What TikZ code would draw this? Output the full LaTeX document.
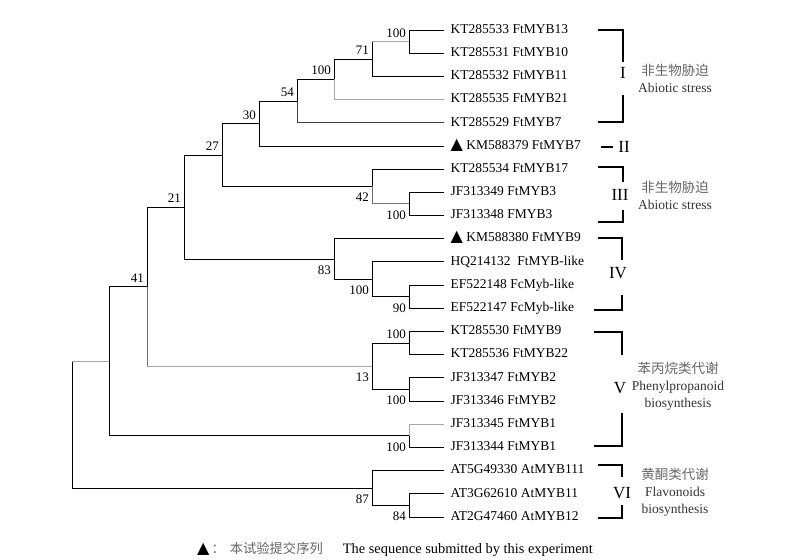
\documentclass[tikz,border=0pt]{standalone}
\usepackage{fontspec}
\setmainfont{Liberation Serif}
\newfontfamily\cjk{Noto Sans CJK SC}
\newfontfamily\sym{DejaVu Sans}
\newcommand{\tri}{{\sym\fontsize{16bp}{16bp}\selectfont ▲}}
\begin{document}
\begin{tikzpicture}[x=1bp,y=-1bp,
    br/.style={line width=0.9bp},
    lbr/.style={line width=0.9bp,black!35},
    leaf/.style={anchor=west,inner xsep=6.5bp,inner ysep=0pt,text height=0.66em,text depth=0pt,font=\fontsize{13.5bp}{16bp}\selectfont},
    bsu/.style={anchor=south east,inner xsep=3bp,inner ysep=1.5bp,yshift=2.5bp,font=\fontsize{13bp}{15bp}\selectfont},
    bsl/.style={anchor=north east,inner xsep=3bp,inner ysep=1.5bp,yshift=-5bp,font=\fontsize{13bp}{15bp}\selectfont},
    brk/.style={line width=1.6bp},
    clade/.style={inner sep=0pt,font=\fontsize{17bp}{20bp}\selectfont},
    func/.style={align=center,inner sep=0pt,font=\fontsize{13.5bp}{17bp}\selectfont}]
  \useasboundingbox (0,0) rectangle (795,560);

  % leaves
  \node[leaf] (l0) at (444,30.0) {KT285533 FtMYB13};
  \node[leaf] (l1) at (444,53.2) {KT285531 FtMYB10};
  \node[leaf] (l2) at (444,76.4) {KT285532 FtMYB11};
  \node[leaf] (l3) at (444,99.6) {KT285535 FtMYB21};
  \node[leaf] (l4) at (444,122.8) {KT285529 FtMYB7};
  \node[leaf] (l5) at (444,146.0) {\tri\ KM588379 FtMYB7};
  \node[leaf] (l6) at (444,169.1) {KT285534 FtMYB17};
  \node[leaf] (l7) at (444,192.3) {JF313349 FtMYB3};
  \node[leaf] (l8) at (444,215.5) {JF313348 FMYB3};
  \node[leaf] (l9) at (444,238.7) {\tri\ KM588380 FtMYB9};
  \node[leaf] (l10) at (444,261.9) {HQ214132\ \ FtMYB-like};
  \node[leaf] (l11) at (444,285.1) {EF522148 FcMyb-like};
  \node[leaf] (l12) at (444,308.3) {EF522147 FcMyb-like};
  \node[leaf] (l13) at (444,331.5) {KT285530 FtMYB9};
  \node[leaf] (l14) at (444,354.7) {KT285536 FtMYB22};
  \node[leaf] (l15) at (444,377.9) {JF313347 FtMYB2};
  \node[leaf] (l16) at (444,401.1) {JF313346 FtMYB2};
  \node[leaf] (l17) at (444,424.2) {JF313345 FtMYB1};
  \node[leaf] (l18) at (444,447.4) {JF313344 FtMYB1};
  \node[leaf] (l19) at (444,470.6) {AT5G49330 AtMYB111};
  \node[leaf] (l20) at (444,493.8) {AT3G62610 AtMYB11};
  \node[leaf] (l21) at (444,517.0) {AT2G47460 AtMYB12};

  % inner nodes
  \coordinate (n100a) at (409,41.6);
  \coordinate (n71) at (372,59.0);
  \coordinate (n100b) at (334,79.3);
  \coordinate (n54) at (297,101.1);
  \coordinate (n30) at (259,123.5);
  \coordinate (n100c) at (409,203.9);
  \coordinate (n42) at (372,186.5);
  \coordinate (n27) at (222,155.0);
  \coordinate (n90) at (409,296.7);
  \coordinate (n100d) at (372,279.3);
  \coordinate (n83) at (334,259.0);
  \coordinate (n21) at (184,207.0);
  \coordinate (n100e) at (409,343.1);
  \coordinate (n100f) at (409,389.5);
  \coordinate (n13) at (372,366.3);
  \coordinate (n41) at (147,286.7);
  \coordinate (n100g) at (409,435.8);
  \coordinate (nA) at (109,361.3);
  \coordinate (n84) at (409,505.4);
  \coordinate (n87) at (372,488.0);
  \coordinate (root) at (72,424.7);

  % branches
  \draw[br] (n100a) |- (l0.west) (n100a) |- (l1.west);
  \draw[br] (n71) -- (n71 |- n100a);
  \draw[lbr] (n71 |- n100a) -- (n100a);
  \draw[br] (n71) |- (l2.west);
  \draw[br] (n100b) |- (n71);
  \draw[lbr] (n100b) |- (l3.west);
  \draw[br] (n54) |- (n100b);
  \draw[br,black!75] (n54) |- (l4.west);
  \draw[br] (n30) |- (n54) (n30) |- (l5.west);
  \draw[br] (n100c) |- (l7.west) (n100c) |- (l8.west);
  \draw[br] (n42) |- (l6.west);
  \draw[lbr,black!55] (n42) |- (n100c);
  \draw[br] (n27) |- (n30) (n27) |- (n42);
  \draw[br] (n90) |- (l11.west) (n90) |- (l12.west);
  \draw[br] (n100d) |- (l10.west) (n100d) |- (n90);
  \draw[br] (n83) |- (l9.west) (n83) |- (n100d);
  \draw[br] (n21) |- (n27) (n21) |- (n83);
  \draw[br] (n100e) |- (l13.west) (n100e) |- (l14.west);
  \draw[br] (n100f) |- (l15.west) (n100f) |- (l16.west);
  \draw[br] (n13) |- (n100e) (n13) |- (n100f);
  \draw[br] (n41) |- (n21);
  \draw[lbr,black!55] (n41) -- (n41 |- n13);
  \draw[lbr] (n41 |- n13) -- (n13);
  \draw[lbr] (n100g) |- (l17.west);
  \draw[br] (n100g) |- (l18.west);
  \draw[br] (nA) |- (n41) (nA) |- (n100g);
  \draw[br] (n84) |- (l20.west) (n84) |- (l21.west);
  \draw[br] (n87) |- (l19.west) (n87) |- (n84);
  \draw[br] (root |- nA) -- (root |- n87) -- (n87);
  \draw[lbr] (root |- nA) -- (nA);

  % bootstrap values
  \node[bsu] (bn100a) at (n100a) {100};
  \node[bsu] (bn71) at (n71) {71};
  \node[bsu] (bn100b) at (n100b) {100};
  \node[bsu] (bn54) at (n54) {54};
  \node[bsu] (bn30) at (n30) {30};
  \node[bsu] (bn27) at (n27) {27};
  \node[bsu] (bn21) at (n21) {21};
  \node[bsu] (bn41) at (n41) {41};
  \node[bsl] (bn42) at (n42) {42};
  \node[bsl] (bn100c) at (n100c) {100};
  \node[bsl] (bn83) at (n83) {83};
  \node[bsl] (bn100d) at (n100d) {100};
  \node[bsl] (bn90) at (n90) {90};
  \node[bsu] (bn100e) at (n100e) {100};
  \node[bsl] (bn100f) at (n100f) {100};
  \node[bsl] (bn13) at (n13) {13};
  \node[bsl] (bn100g) at (n100g) {100};
  \node[bsl] (bn87) at (n87) {87};
  \node[bsl] (bn84) at (n84) {84};

  % groups
  \draw[brk] (598,30) -- (623,30) -- (623,62) (623,95) -- (623,122) -- (598,122);
  \node[clade] (cI) at (623,73) {I};
  \draw[brk] (601,147) -- (613,147);
  \node[clade] (cII) at (624,147) {II};
  \draw[brk] (598,167) -- (623,167) -- (623,182) (623,210) -- (623,222) -- (598,222);
  \node[clade] (cIII) at (620,195) {III};
  \draw[brk] (598,238) -- (622,238) -- (622,260) (622,295) -- (622,310) -- (594,310);
  \node[clade] (cIV) at (618,273) {IV};
  \draw[brk] (594,332) -- (622,332) -- (622,355) (622,413) -- (622,446) -- (594,446);
  \node[clade] (cV) at (620,388) {V};
  \draw[brk] (598,465) -- (622,465) -- (622,477) (622,505) -- (622,518) -- (598,518);
  \node[clade] (cVI) at (622,493) {VI};

  \node[func] (fI) at (675,78.5) {{\cjk\color{black!60}非生物胁迫}\\{\color{black!80}Abiotic stress}};
  \node[func] (fIII) at (675,195) {{\cjk\color{black!60}非生物胁迫}\\{\color{black!80}Abiotic stress}};
  \node[func] (fV) at (678,386) {{\cjk\color{black!60}苯丙烷类代谢}\\{\color{black!80}Phenylpropanoid}\\{\color{black!80}biosynthesis}};
  \node[func] (fVI) at (675,492) {{\cjk\color{black!60}黄酮类代谢}\\{\color{black!80}Flavonoids}\\{\color{black!80}biosynthesis}};

  \node[anchor=west,inner sep=0pt,font=\fontsize{14.4bp}{16bp}\selectfont] (note) at (197,549) {\tri{\cjk\fontsize{13.3bp}{16bp}\selectfont\color{black!60}\hspace{2bp}：\hspace{5bp}本试验提交序列}\hspace{20bp}The sequence submitted by this experiment};
\end{tikzpicture}
\end{document}
